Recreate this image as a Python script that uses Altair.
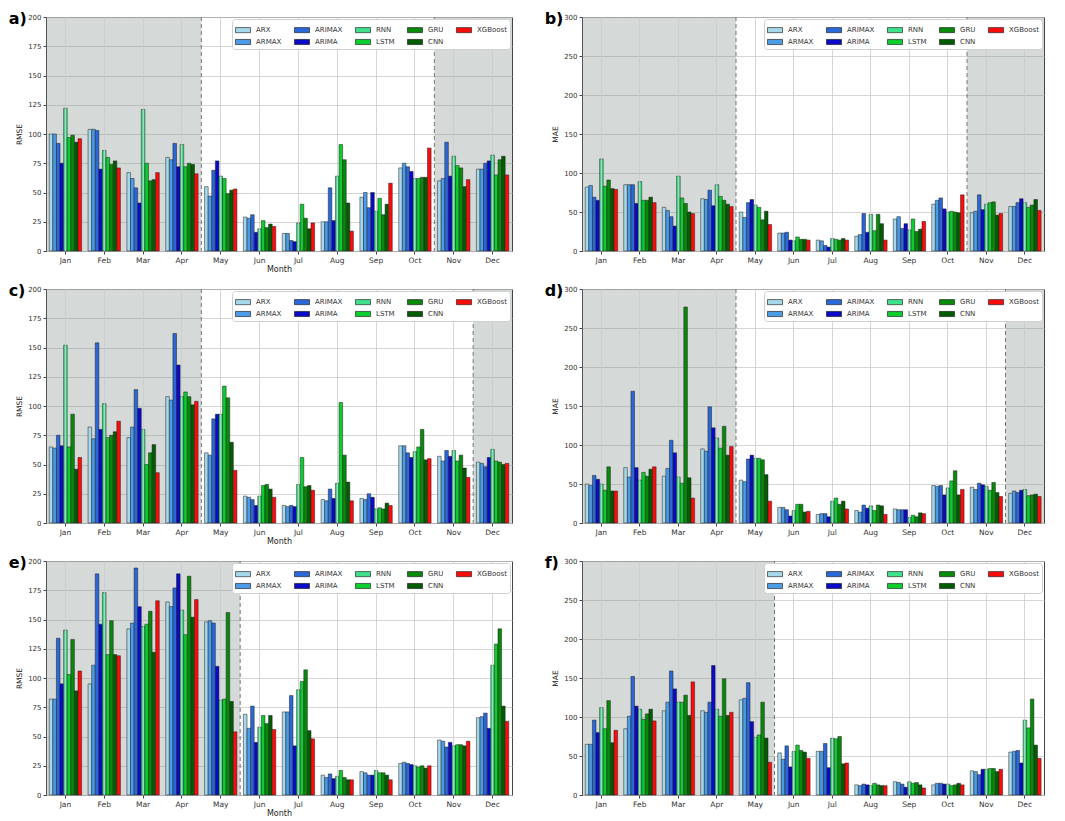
import altair as alt
import pandas as pd

months = ["Jan", "Feb", "Mar", "Apr", "May", "Jun", "Jul", "Aug", "Sep", "Oct", "Nov", "Dec"]
models = ["ARX", "ARMAX", "ARIMAX", "ARIMA", "RNN", "LSTM", "GRU", "CNN", "XGBoost"]
model_colors = ["#a6d8ea", "#4b9be6", "#2a68d8", "#0a0ac8", "#3ee08a", "#0ccc2e", "#078a0a", "#035c03", "#ff0a0a"]

ticks_rmse = [0, 25, 50, 75, 100, 125, 150, 175, 200]
ticks_mae = [0, 50, 100, 150, 200, 250, 300]

# rows = months (Jan..Dec), columns = models (ARX..XGBoost)
rmse_a = [
    [100, 100, 92, 75, 122, 97, 99, 93, 96],
    [104, 104, 103, 70, 86, 80, 74, 77, 71],
    [67, 62, 54, 41, 121, 75, 60, 61, 67],
    [80, 78, 92, 72, 91, 72, 75, 74, 66],
    [55, 47, 69, 77, 64, 62, 49, 52, 53],
    [29, 28, 31, 16, 19, 26, 20, 23, 21],
    [15, 15, 9, 8, 24, 40, 28, 19, 24],
    [25, 25, 54, 26, 64, 91, 78, 41, 17],
    [46, 50, 37, 50, 34, 45, 31, 40, 58],
    [71, 75, 72, 68, 62, 62, 63, 63, 88],
    [60, 62, 93, 64, 81, 73, 71, 55, 61],
    [70, 70, 75, 77, 82, 65, 78, 81, 65],
]
mae_b = [
    [82, 84, 69, 65, 118, 83, 91, 80, 79],
    [85, 85, 85, 61, 89, 65, 65, 69, 62],
    [56, 52, 44, 32, 96, 68, 61, 50, 48],
    [67, 66, 78, 58, 85, 70, 65, 60, 57],
    [50, 43, 62, 66, 59, 56, 40, 51, 34],
    [23, 23, 24, 14, 13, 18, 15, 15, 14],
    [14, 13, 7, 5, 16, 15, 14, 16, 14],
    [19, 21, 48, 24, 47, 26, 47, 35, 14],
    [41, 44, 29, 35, 27, 41, 25, 28, 38],
    [60, 65, 68, 54, 50, 51, 50, 49, 72],
    [49, 51, 72, 53, 60, 62, 63, 46, 48],
    [57, 57, 62, 67, 62, 56, 59, 66, 52],
]
rmse_c = [
    [65, 64, 75, 66, 152, 65, 93, 46, 56],
    [82, 72, 154, 80, 102, 73, 75, 78, 87],
    [73, 82, 114, 98, 80, 50, 60, 67, 43],
    [108, 105, 162, 135, 108, 112, 108, 101, 104],
    [60, 58, 89, 93, 93, 117, 107, 69, 45],
    [23, 22, 20, 15, 23, 32, 33, 29, 22],
    [15, 14, 15, 14, 33, 56, 31, 32, 28],
    [20, 19, 29, 21, 34, 103, 58, 35, 19],
    [21, 20, 25, 22, 12, 13, 12, 17, 15],
    [66, 66, 60, 56, 61, 65, 80, 54, 55],
    [57, 53, 62, 57, 62, 53, 58, 47, 39],
    [52, 51, 48, 56, 63, 53, 52, 50, 51],
]
mae_d = [
    [50, 48, 61, 56, 50, 42, 72, 41, 41],
    [71, 59, 169, 71, 55, 65, 60, 69, 72],
    [60, 70, 106, 90, 59, 51, 277, 58, 32],
    [95, 92, 149, 122, 109, 96, 124, 87, 98],
    [55, 53, 82, 87, 83, 83, 81, 62, 28],
    [20, 20, 17, 9, 16, 24, 24, 14, 15],
    [11, 12, 12, 8, 28, 32, 24, 28, 18],
    [16, 14, 23, 19, 22, 16, 23, 22, 11],
    [18, 17, 17, 17, 7, 10, 8, 13, 12],
    [48, 47, 48, 36, 45, 54, 67, 36, 43],
    [46, 43, 51, 49, 47, 42, 52, 39, 34],
    [38, 41, 39, 42, 43, 35, 36, 37, 34],
]
rmse_e = [
    [82, 82, 134, 95, 141, 103, 133, 89, 106],
    [95, 111, 189, 146, 173, 120, 149, 120, 119],
    [142, 147, 194, 161, 144, 146, 157, 122, 166],
    [165, 161, 177, 189, 158, 137, 187, 152, 167],
    [148, 149, 147, 110, 81, 82, 156, 80, 54],
    [69, 57, 76, 45, 58, 68, 61, 68, 56],
    [71, 71, 85, 42, 90, 97, 107, 55, 48],
    [17, 15, 18, 14, 16, 21, 15, 13, 13],
    [20, 19, 17, 17, 21, 19, 19, 17, 13],
    [27, 28, 27, 26, 25, 24, 25, 23, 25],
    [47, 46, 41, 45, 42, 43, 43, 42, 46],
    [66, 67, 70, 57, 111, 129, 142, 76, 63],
]
mae_f = [
    [65, 65, 96, 80, 112, 85, 121, 67, 83],
    [85, 101, 152, 114, 110, 97, 104, 110, 95],
    [108, 119, 159, 136, 119, 119, 128, 102, 145],
    [108, 106, 119, 166, 110, 101, 149, 102, 106],
    [122, 124, 144, 94, 74, 77, 119, 73, 42],
    [54, 46, 63, 36, 56, 64, 57, 55, 47],
    [56, 56, 66, 35, 73, 72, 75, 40, 41],
    [13, 12, 14, 13, 12, 15, 13, 12, 12],
    [17, 16, 14, 10, 17, 15, 16, 13, 9],
    [13, 15, 15, 14, 14, 12, 13, 15, 13],
    [31, 30, 26, 33, 33, 34, 34, 30, 33],
    [55, 56, 57, 41, 96, 86, 123, 64, 47],
]

shade_ab = ["Jan", "Feb", "Mar", "Apr", "Nov", "Dec"]
split_ab = ["May", "Nov"]
shade_cd = ["Jan", "Feb", "Mar", "Apr", "Dec"]
split_cd = ["May", "Dec"]
shade_ef = ["Jan", "Feb", "Mar", "Apr", "May"]
split_ef = ["Jun"]

LEGEND_SYMBOL = "M-1,-0.34L1,-0.34L1,0.34L-1,0.34Z"


def panel(tag, rows, ticks, ytitle, shade, split, xtitle, width):
    df = pd.DataFrame(
        [{"Month": m, "Model": md, "Value": v}
         for m, row in zip(months, rows) for md, v in zip(models, row)]
    )
    xscale = alt.Scale(domain=months, paddingInner=0, paddingOuter=0)
    axis_kw = dict(labelAngle=0, grid=True, ticks=True, tickSize=3, domain=False,
                   labelFontSize=7.5, labelColor="#333", labelPadding=2,
                   titleFontSize=8, titleFontWeight="normal", titleColor="#222",
                   titlePadding=2)
    if xtitle:
        xaxis = alt.Axis(title=xtitle, **axis_kw)
    else:
        xaxis = alt.Axis(title=None, **axis_kw)
    yscale = alt.Scale(domain=[ticks[0], ticks[-1]], nice=False)
    yaxis = alt.Axis(title=ytitle, values=ticks, grid=True, tickSize=3, domain=False,
                     labelFontSize=7, labelColor="#333", labelPadding=2,
                     titleFontSize=7.5, titleFontWeight="normal", titleColor="#222",
                     titlePadding=4)

    bg = alt.Chart(pd.DataFrame({"Month": shade})).mark_rect(
        color="#75807f", opacity=0.3
    ).encode(x=alt.X("Month:N", scale=xscale, axis=xaxis))

    rules = alt.Chart(pd.DataFrame({"Month": split})).mark_rule(
        color="#777777", strokeDash=[4, 3], strokeWidth=1
    ).encode(x=alt.X("Month:N", scale=xscale, axis=xaxis, bandPosition=0))

    bars = alt.Chart(df).mark_bar(stroke="#1e1e1e", strokeWidth=0.5).encode(
        x=alt.X("Month:N", scale=xscale, axis=xaxis),
        xOffset=alt.XOffset("Model:N", scale=alt.Scale(domain=models, paddingInner=0, paddingOuter=0.9)),
        y=alt.Y("Value:Q", scale=yscale, axis=yaxis),
        color=alt.Color(
            "Model:N",
            scale=alt.Scale(domain=models, range=model_colors),
            legend=alt.Legend(
                title=None, orient="top-right", columns=5, symbolType=LEGEND_SYMBOL,
                symbolSize=225, symbolStrokeColor="#111", symbolStrokeWidth=0.6,
                symbolOpacity=1, labelFontSize=7, labelColor="#333", labelOffset=5,
                columnPadding=11, rowPadding=0, padding=3, fillColor="white",
                strokeColor="#cfcfcf", cornerRadius=3, offset=2, zindex=3,
            ),
        ),
    )

    return alt.layer(bg, bars, rules).properties(
        width=width, height=234,
        title=alt.TitleParams(tag, anchor="start", fontSize=16, fontWeight="bold",
                              color="black", offset=-14, dx=-7),
    )


row1 = alt.hconcat(
    panel("a)", rmse_a, ticks_rmse, "RMSE", shade_ab, split_ab, "Month", 466),
    panel("b)", mae_b, ticks_mae, "MAE", shade_ab, split_ab, None, 462),
    spacing=31,
).resolve_scale(color="independent")
row2 = alt.hconcat(
    panel("c)", rmse_c, ticks_rmse, "RMSE", shade_cd, split_cd, "Month", 466),
    panel("d)", mae_d, ticks_mae, "MAE", shade_cd, split_cd, None, 462),
    spacing=31,
).resolve_scale(color="independent")
row3 = alt.hconcat(
    panel("e)", rmse_e, ticks_rmse, "RMSE", shade_ef, split_ef, "Month", 466),
    panel("f)", mae_f, ticks_mae, "MAE", shade_ef, split_ef, None, 462),
    spacing=31,
).resolve_scale(color="independent")

chart = alt.vconcat(row1, row2, row3, spacing=8).resolve_scale(
    color="independent"
).properties(
    padding={"left": 0, "top": 2, "right": 2, "bottom": 2}
).configure(
    font="DejaVu Sans",
).configure_view(
    stroke="#444444", strokeWidth=1
).configure_axis(
    gridColor="#cccccc", gridWidth=0.8, tickColor="#444444"
)

chart.save("out.html", embed_options={"renderer": "svg", "actions": False})
